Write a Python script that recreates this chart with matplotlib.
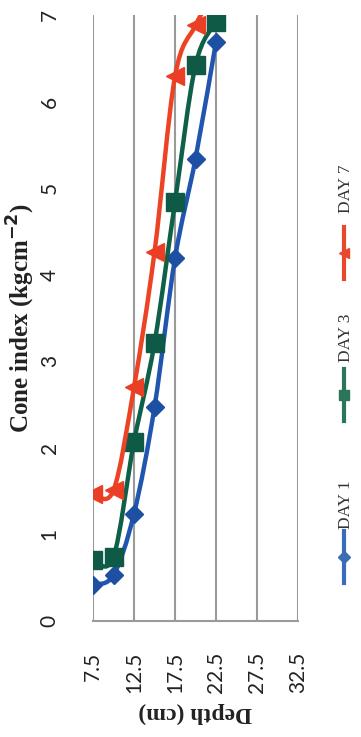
import matplotlib.pyplot as plt
from matplotlib.lines import Line2D
from matplotlib.path import Path
from matplotlib.patches import PathPatch

# depth (cm) and cone index (kg cm^-2)
depth = [7.5, 10, 12.5, 15, 17.5, 20, 22.5]
day1 = [0.42, 0.53, 1.24, 2.47, 4.19, 5.34, 6.69]
day3 = [0.70, 0.74, 2.07, 3.21, 4.84, 6.42, 6.92]
day7 = [1.47, 1.51, 2.70, 4.26, 6.29, 6.88, 7.30]

depth_ticks = [7.5, 12.5, 17.5, 22.5, 27.5, 32.5]
ci_ticks = [0, 1, 2, 3, 4, 5, 6, 7]

W, H = 361, 737
fig = plt.figure(figsize=(W / 100, H / 100), dpi=100)
ax = fig.add_axes([93 / W, 1 - 621 / H, 205 / W, 606 / H])


def px(x, y):
    return x / W, 1 - y / H


def smooth_path(xs, ys):
    # excel-style smoothed line: cubic bezier segments through the points
    pts = list(zip(xs, ys))
    verts, codes = [pts[0]], [Path.MOVETO]
    n = len(pts)
    for i in range(n - 1):
        p0 = pts[max(i - 1, 0)]
        p1, p2 = pts[i], pts[i + 1]
        p3 = pts[min(i + 2, n - 1)]
        c1 = (p1[0] + (p2[0] - p0[0]) / 6, p1[1] + (p2[1] - p0[1]) / 6)
        c2 = (p2[0] - (p3[0] - p1[0]) / 6, p2[1] - (p3[1] - p1[1]) / 6)
        verts += [c1, c2, p2]
        codes += [Path.CURVE4] * 3
    return Path(verts, codes)


series = [(day1, '#2156b0', '#1d4fa3', 'D', 9),
          (day3, '#0f6048', '#0e5a47', 's', 13),
          (day7, '#ec4326', '#ea3f24', '<', 13)]
for z, (vals, lc, mc, mk, ms) in enumerate(series):
    ax.add_patch(PathPatch(smooth_path(depth, vals), fc='none', ec=lc, lw=3.2,
                           capstyle='round', zorder=3 + z))
    ax.plot(depth, vals, ls='none', marker=mk, ms=ms, mfc=mc, mec=mc, zorder=3 + z)

ax.set_xlim(7.5, 32.5)
ax.set_ylim(0, 7)
ax.set_xticks(depth_ticks)
ax.set_xticklabels([f'{d:g}' for d in depth_ticks], rotation=90, va='top')
ax.set_yticks(ci_ticks)
ax.set_yticklabels([str(c) for c in ci_ticks], rotation=90, va='center')
ax.tick_params(length=0, labelsize=15, colors='#222222')
ax.tick_params(axis='x', pad=22)
ax.tick_params(axis='y', pad=24)
for lab in ax.get_xticklabels() + ax.get_yticklabels():
    lab.set_family('Lato')

ax.grid(axis='x', color='#9a9a9a', lw=1.5)
for s in ['top', 'right', 'left']:
    ax.spines[s].set_visible(False)
ax.spines['bottom'].set_color('#9a9a9a')
ax.spines['bottom'].set_linewidth(1.5)

fig.text(*px(21, 318), 'Cone index (kgcm$^{\\mathbf{-2}}$)', rotation=90, ha='center', va='center',
         family='Liberation Serif', fontweight='bold', fontsize=18, color='#222222')
fig.text(*px(195, 713), 'Depth (cm)', rotation=180, ha='center', va='center',
         family='Liberation Serif', fontweight='bold', fontsize=17, color='#222222')

# legend, rotated like the rest of the chart
legend = [('DAY 1', '#3a6cb8', 'D', 6, 557, 505),
          ('DAY 3', '#2a7658', 's', 7, 395, 338),
          ('DAY 7', '#e8492c', '<', 7, 253, 189)]
for name, col, mk, ms, ly, ty in legend:
    x0, y0 = px(344, ly + 26)
    x1, y1 = px(344, ly - 26)
    fig.add_artist(Line2D([x0, x1], [y0, y1], transform=fig.transFigure, color=col, lw=3))
    fig.add_artist(Line2D([x0], [(y0 + y1) / 2], transform=fig.transFigure, marker=mk, ms=ms,
                          color=col, lw=0))
    fig.text(*px(346, ty), name, rotation=90, ha='center', va='center',
             family='Liberation Serif', fontsize=12.5, color='#333333')

fig.savefig('out.png', dpi=100)
